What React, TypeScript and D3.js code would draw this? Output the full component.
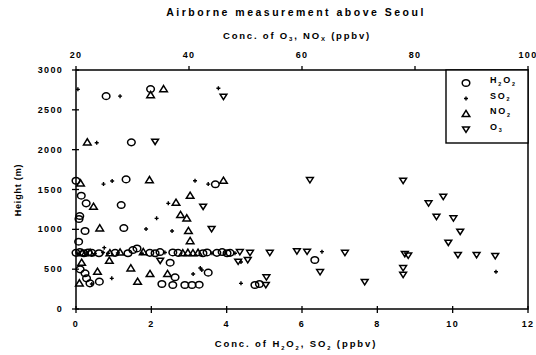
import * as React from "react";
import * as d3 from "d3";

// [concentration, height]
// H2O2 and SO2 read on the bottom axis (0-12 ppbv), NO2 and O3 on the top axis (20-100 ppbv)
const h2o2: [number, number][] = [
  [0.8, 2672], [1.98, 2760], [1.47, 2092],
  [0, 1610], [1.33, 1627], [3.7, 1565], [0.14, 1422], [0.27, 1326], [1.2, 1305],
  [0.1, 1167], [0.08, 1130], [0.24, 979], [1.27, 1016], [0.07, 845],
  [0, 705], [0.1, 715], [0.21, 700], [0.32, 710], [0.42, 705], [0.61, 700], [1.04, 705],
  [1.38, 700], [1.51, 740], [1.62, 760], [1.96, 705], [2.1, 700], [2.23, 715], [2.57, 710],
  [2.71, 705], [3.37, 700], [3.48, 710], [3.74, 705], [3.88, 715], [4.01, 700], [4.09, 705],
  [6.34, 615], [0.11, 498], [0.24, 448], [2.5, 581], [2.63, 398], [3.51, 456],
  [0.37, 322], [0.62, 343], [0.28, 385],
  [2.28, 314], [2.57, 301], [2.89, 301], [3.08, 301], [3.27, 305], [4.75, 301], [4.87, 314],
];

const so2: [number, number][] = [
  [0.05, 2757], [1.17, 2672], [3.78, 2770], [0.55, 2087],
  [0.73, 1568], [0.96, 1606], [3.16, 1610], [3.51, 1568], [2.45, 1326], [2.14, 1138],
  [1.86, 1004], [2.55, 979], [0.75, 770],
  [0.05, 700], [0.27, 705], [0.5, 695], [0.72, 710], [0.85, 700], [1.11, 705], [1.75, 700],
  [2.36, 710], [3.61, 700], [3.96, 705], [4.22, 700], [6.53, 720],
  [4.38, 590], [0.95, 385], [0.42, 314], [3.11, 440], [3.34, 489], [4.38, 322],
  [11.15, 468], [3.3, 514],
];

const no2: [number, number][] = [
  [33.2, 2685], [35.5, 2760], [22.0, 2092],
  [20.8, 1577], [33.0, 1618], [46.1, 1610], [23.1, 1284], [37.7, 1334], [40.2, 1422],
  [38.5, 1180], [39.6, 1138], [24.2, 1013], [39.9, 979], [40.2, 853],
  [21.1, 700], [22.5, 705], [26.0, 700], [27.8, 710], [31.9, 715], [38.9, 700], [39.8, 705],
  [40.7, 700], [41.6, 705],
  [21.0, 581], [23.8, 468], [25.9, 606], [29.7, 511], [33.1, 440], [36.2, 440],
  [20.6, 322], [30.9, 343],
];

const o3: [number, number][] = [
  [46.1, 2664], [34.0, 2100], [61.4, 1618], [77.9, 1610], [42.5, 1284], [44.0, 1004],
  [85.0, 1409], [82.4, 1326], [83.8, 1158], [86.8, 1138], [88.0, 970], [85.9, 832],
  [49.0, 715], [50.8, 705], [54.3, 705], [59.1, 725], [60.9, 720], [67.6, 705],
  [78.2, 690], [78.8, 670], [87.6, 678], [90.9, 678], [94.2, 665],
  [34.9, 606], [48.7, 594], [50.4, 615], [63.2, 464], [53.6, 301], [53.7, 398],
  [71.1, 339], [77.9, 514], [77.9, 430],
];

const bottomTicks = [0, 2, 4, 6, 8, 10, 12];
const topTicks = [20, 40, 60, 80, 100];
const heightTicks = [0, 500, 1000, 1500, 2000, 2500, 3000];
const legendItems = [
  { key: "h2o2", base: ["H", "2", "O", "2"] },
  { key: "so2", base: ["SO", "2"] },
  { key: "no2", base: ["NO", "2"] },
  { key: "o3", base: ["O", "3"] },
];

const FONT = "'Liberation Sans', Arial, sans-serif";
const PLOT = { left: 76, right: 528, top: 70, bottom: 309 };

function Marker({ kind, x, y }: { kind: string; x: number; y: number }) {
  const sw = 1.5;
  if (kind === "h2o2")
    return <ellipse cx={x} cy={y} rx={3.8} ry={3.3} fill="none" stroke="#000" strokeWidth={sw} />;
  if (kind === "so2")
    return (
      <path d={`M${x - 2},${y}H${x + 2}M${x},${y - 2}V${y + 2}`} stroke="#000" strokeWidth={1.4} />
    );
  if (kind === "no2")
    return (
      <path
        d={`M${x},${y - 3.6}L${x + 3.8},${y + 2.6}L${x - 3.8},${y + 2.6}Z`}
        fill="none" stroke="#000" strokeWidth={sw}
      />
    );
  return (
    <path
      d={`M${x - 3.4},${y - 2.5}L${x + 3.4},${y - 2.5}L${x},${y + 2.8}Z`}
      fill="none" stroke="#000" strokeWidth={sw}
    />
  );
}

function Sub({ parts, size }: { parts: string[]; size: number }) {
  // alternate normal text and subscript
  return (
    <>
      {parts.map((p, i) =>
        i % 2 === 1 ? (
          <tspan key={i} fontSize={size * 0.6} dy={size * 0.3}>{p}</tspan>
        ) : (
          <tspan key={i} dy={i === 0 ? 0 : -size * 0.3}>{p}</tspan>
        ),
      )}
    </>
  );
}

export default function App() {
  const xb = d3.scaleLinear().domain([0, 12]).range([PLOT.left, PLOT.right]);
  const xt = d3.scaleLinear().domain([20, 100]).range([PLOT.left, PLOT.right]);
  const y = d3.scaleLinear().domain([0, 3000]).range([PLOT.bottom, PLOT.top]);

  const lbl = { fontFamily: FONT, fontWeight: 700, fontSize: 9, letterSpacing: 1.3 } as const;

  return (
    <svg
      width={536}
      height={355}
      style={{ position: "absolute", left: 0, top: 0, background: "#fff" }}
    >
      <text x={296} y={16} textAnchor="middle" {...lbl} fontSize={10.5} letterSpacing={2.5}>
        Airborne measurement above Seoul
      </text>
      <text x={297} y={39} textAnchor="middle" {...lbl} fontSize={9.5} letterSpacing={1.8}>
        Conc. of O<tspan fontSize={6} dy={2}>3</tspan>
        <tspan dy={-2}>, NO</tspan>
        <tspan fontSize={6} dy={2}>X</tspan>
        <tspan dy={-2}> (ppbv)</tspan>
      </text>

      {/* frame */}
      <rect
        x={PLOT.left} y={PLOT.top}
        width={PLOT.right - PLOT.left} height={PLOT.bottom - PLOT.top}
        fill="none" stroke="#000" strokeWidth={1.5}
      />

      {/* bottom axis */}
      {bottomTicks.map((t) => (
        <g key={`b${t}`}>
          <line x1={xb(t)} x2={xb(t)} y1={PLOT.bottom - 3} y2={PLOT.bottom + 4} stroke="#000" strokeWidth={1.3} />
          <text x={xb(t)} y={327} textAnchor="middle" {...lbl}>{t}</text>
        </g>
      ))}
      {/* top axis */}
      {topTicks.map((t) => (
        <g key={`t${t}`}>
          <line x1={xt(t)} x2={xt(t)} y1={PLOT.top - 4} y2={PLOT.top} stroke="#000" strokeWidth={1.3} />
          <text x={xt(t)} y={58} textAnchor="middle" {...lbl}>{t}</text>
        </g>
      ))}
      {/* left axis */}
      {heightTicks.map((t) => (
        <g key={`l${t}`}>
          <line x1={PLOT.left - 4} x2={PLOT.left + 3} y1={y(t)} y2={y(t)} stroke="#000" strokeWidth={1.3} />
          <text x={63} y={y(t)} dy="0.35em" textAnchor="end" {...lbl}>{t}</text>
        </g>
      ))}

      <text
        transform="translate(21,190) rotate(-90)"
        textAnchor="middle" {...lbl} fontSize={9} letterSpacing={0.8}
      >
        Height (m)
      </text>
      <text x={296} y={347} textAnchor="middle" {...lbl} fontSize={9.5} letterSpacing={1.9}>
        <Sub parts={["Conc. of H", "2", "O", "2", ", SO", "2", " (ppbv)"]} size={9.5} />
      </text>

      {/* data */}
      {h2o2.map(([v, h], i) => <Marker key={`h${i}`} kind="h2o2" x={xb(v)} y={y(h)} />)}
      {so2.map(([v, h], i) => <Marker key={`s${i}`} kind="so2" x={xb(v)} y={y(h)} />)}
      {no2.map(([v, h], i) => <Marker key={`n${i}`} kind="no2" x={xt(v)} y={y(h)} />)}
      {o3.map(([v, h], i) => <Marker key={`o${i}`} kind="o3" x={xt(v)} y={y(h)} />)}

      {/* legend */}
      <rect x={446} y={PLOT.top} width={PLOT.right - 446} height={73} fill="#fff" stroke="#000" strokeWidth={1.4} />
      {legendItems.map((it, i) => (
        <g key={it.key}>
          <Marker kind={it.key} x={466} y={83 + i * 15.5} />
          <text x={490} y={83 + i * 15.5} dy="0.35em" {...lbl} fontSize={9} letterSpacing={1.8}>
            <Sub parts={it.base} size={9} />
          </text>
        </g>
      ))}
    </svg>
  );
}
